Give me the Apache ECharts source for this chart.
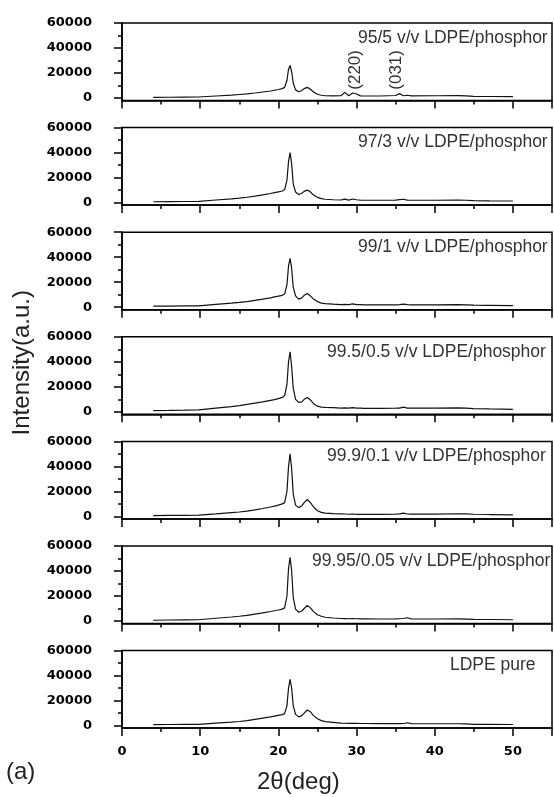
<!DOCTYPE html>
<html>
<head>
<meta charset="utf-8">
<script src="https://cdn.jsdelivr.net/npm/echarts@6/dist/echarts.min.js"></script>
<style>
  html, body { margin: 0; padding: 0; background: #fff; }
  #main { width: 554px; height: 797px; }
</style>
</head>
<body>
<div id="main"></div>
<script>
  // 2theta sampling (deg), shared by all patterns
  const twoTheta = [4, 6, 8, 9.8, 10, 12, 12.2, 14, 15, 16,
    17, 18, 19, 19.5, 20, 20.5, 20.8, 21.1, 21.3, 21.5,
    21.7, 21.9, 22.2, 22.6, 23.0, 23.3, 23.7, 24.1, 24.5, 25.0,
    25.5, 26, 27, 28, 28.5, 29, 29.5, 30, 30.5, 31,
    33, 35, 35.5, 36, 36.5, 37, 40, 43, 44, 45,
    47, 50]

  // intensities (a.u.), top panel to bottom panel
  const int95 = [500, 600, 700, 800, 1200, 1600, 1900, 2300, 2800, 3300,
    4000, 4800, 5600, 6200, 6800, 7500, 8500, 14000, 23000, 26000,
    21000, 12000, 6500, 5000, 6000, 7500, 8500, 7000, 4800, 3000,
    2200, 1800, 1700, 1800, 4500, 1800, 4000, 3200, 1700, 1600,
    1600, 2000, 3500, 1800, 2200, 1700, 1800, 1900, 1700, 1300,
    1200, 1100]
  const int97 = [700, 800, 900, 1000, 1600, 2100, 2500, 3000, 3600, 4300,
    5200, 6200, 7300, 8000, 8600, 9300, 10300, 18000, 33000, 40000,
    31000, 15000, 8500, 6500, 7500, 9000, 10000, 8500, 6000, 4200,
    3200, 2700, 2300, 2100, 2800, 2000, 2900, 2300, 2000, 1900,
    1900, 2000, 2400, 2700, 2000, 1900, 1900, 2000, 1900, 1600,
    1400, 1300]
  const int99 = [800, 900, 1000, 1100, 1800, 2300, 2700, 3200, 3800, 4500,
    5400, 6400, 7500, 8200, 8800, 9500, 10500, 18000, 33000, 39000,
    31000, 16000, 9000, 6500, 7500, 9500, 11000, 9000, 6500, 4500,
    3300, 2800, 2400, 2100, 2300, 2000, 2600, 2100, 2000, 1900,
    1900, 1900, 2100, 2500, 2000, 1900, 1900, 2000, 1900, 1600,
    1400, 1200]
  const int995 = [1000, 1100, 1300, 1500, 2500, 3000, 3300, 4200, 5000, 6000,
    7000, 8000, 9200, 9800, 10500, 11500, 13000, 22000, 40000, 48000,
    36000, 19000, 10000, 7500, 8000, 10000, 11500, 9500, 6500, 4500,
    3800, 3500, 3300, 3000, 3200, 2900, 3300, 3000, 2900, 2800,
    2800, 2900, 3000, 3800, 3000, 2900, 3000, 3200, 3000, 2600,
    2300, 2000]
  const int999 = [700, 800, 900, 1000, 1400, 2000, 2500, 3000, 3500, 4200,
    5200, 6300, 7500, 8200, 9000, 10000, 11000, 20000, 40000, 50000,
    38000, 18000, 9000, 7000, 8500, 11000, 13500, 11000, 7500, 4500,
    3200, 2600, 2200, 2000, 1900, 1700, 1800, 1700, 1700, 1600,
    1700, 1800, 2000, 2600, 1900, 1800, 1800, 2100, 2000, 1700,
    1500, 1300]
  const int9995 = [600, 800, 900, 1000, 1500, 2200, 2600, 3200, 3800, 4500,
    5500, 6500, 7600, 8200, 8800, 9500, 10500, 20000, 42000, 51000,
    40000, 19000, 9500, 7000, 8000, 10000, 12500, 10500, 7500, 5000,
    3800, 3000, 2400, 2000, 1900, 1800, 1900, 1800, 1700, 1700,
    1600, 1700, 1800, 2000, 2600, 1700, 1600, 1700, 1500, 1300,
    1200, 1000]
  const intPure = [800, 900, 1000, 1000, 1600, 2000, 2400, 2800, 3300, 4000,
    5000, 6000, 7000, 7600, 8200, 8800, 9600, 16000, 30000, 37000,
    30000, 16000, 9000, 7000, 8000, 10000, 12500, 11000, 8000, 5500,
    4000, 3200, 2600, 2000, 1900, 1800, 1800, 1900, 1700, 1700,
    1600, 1600, 1600, 1700, 2300, 1600, 1500, 1500, 1400, 1000,
    1100, 900]

  const patterns = [int95, int97, int99, int995, int999, int9995, intPure]
  const panelLabels = ['95/5 v/v LDPE/phosphor', '97/3 v/v LDPE/phosphor', '99/1 v/v LDPE/phosphor',
    '99.5/0.5 v/v LDPE/phosphor', '99.9/0.1 v/v LDPE/phosphor', '99.95/0.05 v/v LDPE/phosphor', 'LDPE pure']
  const labelLeft = [358, 358, 358, 327, 327, 312, 450]

  // reflection labels on the 95/5 pattern
  const hklNames = ['(220)', '(031)']
  const hklTheta = [29.8, 35.1]
  const hklLevel = 22500

  const xMajor = [0, 10, 20, 30, 40, 50, 55]
  const xMinor = [5, 15, 25, 35, 45]
  const xLabels = [0, 10, 20, 30, 40, 50]
  const yMajor = [0, 20000, 40000, 60000]
  const yMinor = [10000, 30000, 50000]

  const panelTop = 23
  const panelStep = 104.6
  const panelHeight = 77.5

  let grid = []
  let xAxis = []
  let yAxis = []
  let series = []
  let title = []

  const black = '#000'
  const tickFont = { fontFamily: 'DejaVu Sans', fontWeight: 'bold', fontSize: 13, color: black }

  patterns.forEach((ys, i) => {
    let top = panelTop + panelStep * i
    grid.push({ left: 122, right: 2, top: top, height: panelHeight, show: true, borderColor: black, borderWidth: 1.5 })
    let last = i === patterns.length - 1
    // main x axis (major ticks)
    xAxis.push({
      type: 'value', gridIndex: i, min: 0, max: 55, position: 'bottom', offset: 0,
      axisLine: { onZero: false, lineStyle: { color: black, width: 1.5 } },
      axisTick: { customValues: xMajor, length: 8, lineStyle: { color: black, width: 1.5 } },
      axisLabel: Object.assign({ show: last, customValues: xLabels, margin: 17 }, tickFont),
      splitLine: { show: false }
    })
    // minor x ticks
    xAxis.push({
      type: 'value', gridIndex: i, min: 0, max: 55, position: 'bottom', offset: 0,
      axisLine: { show: false, onZero: false },
      axisTick: { customValues: xMinor, length: 4, lineStyle: { color: black, width: 1.5 } },
      axisLabel: { show: false },
      splitLine: { show: false }
    })
    yAxis.push({
      type: 'value', gridIndex: i, min: -2000, max: 60000, position: 'left', offset: 0,
      axisLine: { onZero: false, lineStyle: { color: black, width: 1.5 } },
      axisTick: { customValues: yMajor, length: 8, lineStyle: { color: black, width: 1.5 } },
      axisLabel: Object.assign({ customValues: yMajor, margin: 30, formatter: v => String(v) }, tickFont),
      splitLine: { show: false }
    })
    // minor y ticks
    yAxis.push({
      type: 'value', gridIndex: i, min: -2000, max: 60000, position: 'left', offset: 0,
      axisLine: { show: false, onZero: false },
      axisTick: { customValues: yMinor, length: 4, lineStyle: { color: black, width: 1.5 } },
      axisLabel: { show: false },
      splitLine: { show: false }
    })

    let s = {
      type: 'line',
      xAxisIndex: 2 * i,
      yAxisIndex: 2 * i,
      data: twoTheta.map((x, k) => [x, ys[k]]),
      showSymbol: false,
      symbol: 'none',
      lineStyle: { color: '#111', width: 1.2 },
      animation: false
    }
    if (i === 0) {
      s.markPoint = {
        symbol: 'circle',
        symbolSize: 1,
        itemStyle: { color: 'rgba(0,0,0,0)' },
        label: {
          show: true, position: 'inside', rotate: 90, formatter: '{b}',
          fontFamily: 'Liberation Sans', fontSize: 17, color: '#333'
        },
        data: hklNames.map((n, k) => ({ name: n, coord: [hklTheta[k], hklLevel] }))
      }
    }
    series.push(s)

    title.push({
      text: panelLabels[i],
      left: labelLeft[i],
      top: top + 5,
      padding: 0,
      textStyle: { fontFamily: 'Liberation Sans', fontWeight: 'normal', fontSize: 17.5, color: '#333', lineHeight: 20 }
    })
  })

  let myChart = echarts.init(document.getElementById('main'), null, { renderer: 'canvas' })
  let option = {
    animation: false,
    backgroundColor: '#fff',
    title: title,
    grid: grid,
    xAxis: xAxis,
    yAxis: yAxis,
    series: series,
    graphic: [
      {
        type: 'text', left: 10, top: 290, rotation: Math.PI / 2,
        style: { text: 'Intensity(a.u.)', font: '24px "Liberation Sans"', fill: '#222' }
      },
      {
        type: 'text', left: 257, top: 770,
        style: { text: '2θ(deg)', font: '24px "Liberation Sans"', fill: '#222' }
      },
      {
        type: 'text', left: 6, top: 760,
        style: { text: '(a)', font: '24px "Liberation Sans"', fill: '#222' }
      }
    ]
  }
  myChart.setOption(option)
</script>
</body>
</html>
